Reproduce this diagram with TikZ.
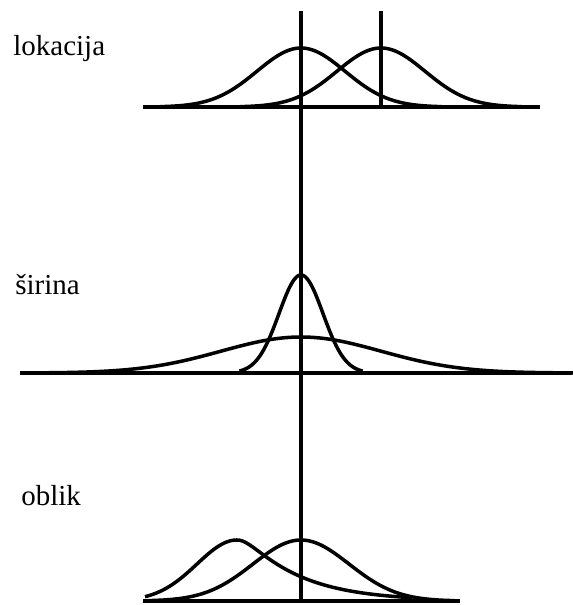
\documentclass[tikz,border=0pt]{standalone}
\usepackage{fontspec}
\setmainfont{Liberation Serif}
\begin{document}
\begin{tikzpicture}[
  x=0.02cm, y=-0.02cm,
  axis/.style={line width=2.1pt, black},
  curve/.style={line width=2pt, black, smooth, samples=120},
  label/.style={anchor=base west, inner sep=0pt, font=\fontsize{16.5}{20}\selectfont},
]
  \useasboundingbox (0, 0) rectangle (572, 605);

  % labels
  \node[label] (lok) at (13, 55) {lokacija};
  \node[label] (sir) at (15, 294) {širina};
  \node[label] (obl) at (21, 505) {oblik};

  % axes
  \draw[axis] (301, 11) -- (301, 601);
  \draw[axis] (381, 11) -- (381, 107);
  \draw[axis] (143, 107) -- (540, 107);
  \draw[axis] (20, 373) -- (572, 373);
  \draw[axis] (143, 601) -- (460, 601);

  % lokacija
  \draw[curve] plot[domain=-3.2:3.2] ({301+44*\x}, {107-59*exp(-\x*\x/2)});
  \draw[curve] plot[domain=-3.2:3.2] ({381+44*\x}, {107-59*exp(-\x*\x/2)});

  % sirina
  \draw[curve] plot[domain=-2.8:2.8] ({301+22*\x}, {373-98*exp(-\x*\x/2)});
  \draw[curve] plot[domain=-3.4:3.4] ({301+80*\x}, {373-36*exp(-\x*\x/2)});

  % oblik
  \draw[curve] plot[domain=-3.2:3.2] ({301+48*\x}, {601-61*exp(-\x*\x/2)});
  \draw[curve] plot[domain=-2.3:0] ({237+40*\x}, {601-61*exp(-\x*\x/2)})
    -- plot[domain=0:17.5] ({237+10*\x}, {601-61*exp(-(sqrt(\x*\x+2.25)-1.5)/5.5)});
\end{tikzpicture}
\end{document}
